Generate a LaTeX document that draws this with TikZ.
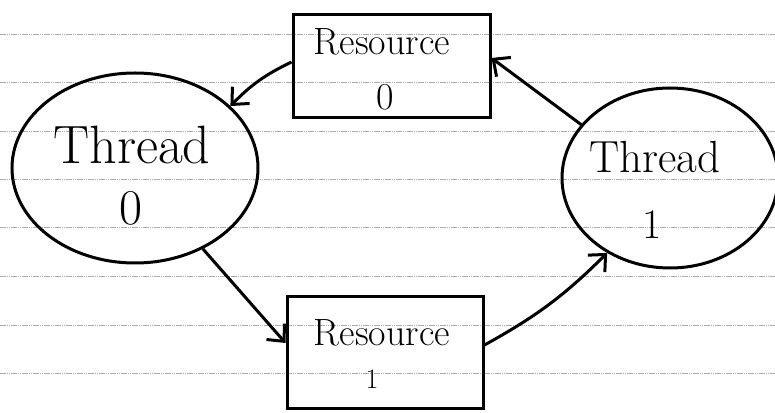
\documentclass[tikz,border=0pt]{standalone}
\usetikzlibrary{shapes.geometric,arrows.meta}
\tikzset{
  ruled/.style={gray!65, line width=1pt, dash pattern=on 1.6pt off 0.6pt},
  thread/.style={draw, ellipse, line width=3pt, inner sep=0pt},
  resbox/.style={draw, rectangle, line width=3pt, inner sep=0pt},
  arr/.style={line width=3pt, -{Straight Barb[length=13pt,width=24pt]}},
  lbl/.style={inner sep=0pt}
}
\begin{document}
\begin{tikzpicture}[x=1pt,y=1pt]
\useasboundingbox (0,0) rectangle (775,412);
\fill[white] (0,0) rectangle (775,412);
% ruled paper
\foreach \yy in {377,329,280,232,184,135,87,39}{
  \draw[ruled] (0,\yy) -- (775,\yy);
}
% shapes
\node[thread, minimum width=246pt, minimum height=190pt] (t0) at (135,244) {};
\node[thread, minimum width=216pt, minimum height=180pt] (t1) at (670,234) {};
\node[resbox, minimum width=197pt, minimum height=103pt] (r0) at (391.5,345.5) {};
\node[resbox, minimum width=196pt, minimum height=111pt] (r1) at (385,59.5) {};
% texts
\node[lbl, font=\fontsize{38}{38}\selectfont] (r0a) at (382,370) {Resource};
\node[lbl, font=\fontsize{38}{38}\selectfont] (r0b) at (385,315) {0};
\node[lbl, font=\fontsize{38}{38}\selectfont] (r1a) at (382,79) {Resource};
\node[lbl, font=\fontsize{28}{28}\selectfont] (r1b) at (372,33) {1};
\node[lbl, font=\fontsize{54}{54}\selectfont] (t0a) at (132,267) {Thread};
\node[lbl, font=\fontsize{50}{50}\selectfont] (t0b) at (131,204) {0};
\node[lbl, font=\fontsize{45}{45}\selectfont] (t1a) at (655,255) {Thread};
\node[lbl, font=\fontsize{42}{42}\selectfont] (t1b) at (652,187) {1};
% connectors
\draw[arr] ([yshift=4.5pt]r0.west) to[bend right=10] (t0.33);
\draw[arr] (t1.149) -- ([yshift=8.5pt]r0.east);
\draw[arr] (t0.-50) -- ([yshift=9.5pt]r1.west);
\draw[arr] ([yshift=7.5pt]r1.east) to[bend right=8] (t1.230);
\end{tikzpicture}
\end{document}
